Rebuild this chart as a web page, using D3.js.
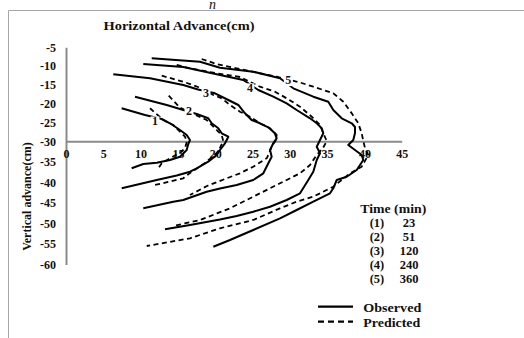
<!DOCTYPE html>
<html>
<head>
<meta charset="utf-8">
<script src="https://cdn.jsdelivr.net/npm/d3@7"></script>
<style>
  html, body { margin: 0; padding: 0; background: #fff; }
  svg { display: block; }
  text { font-family: "Liberation Serif", "Times New Roman", serif; fill: #111; }
</style>
</head>
<body>
<svg id="chart" width="524" height="338"></svg>
<script>
// Wetting-front positions (horizontal cm, vertical cm) for each irrigation time.
const times = [23, 51, 120, 240, 360];
const xTicks = [0, 5, 10, 15, 20, 25, 30, 35, 40, 45];
const yTicks = [-5, -10, -15, -20, -25, -30, -35, -40, -45, -50, -55, -60];

const observed1 = [[7.46,-21.24],[10.59,-23.02],[12.83,-24.09],[13.94,-25.23],[15.28,-27.02],[16.18,-28.35],[16.62,-29.68],[16.39,-30.68],[16.18,-32.14],[15.28,-33.77],[13.94,-34.57],[12.16,-35.23],[10.36,-35.55],[8.8,-36.59]];
const predicted1 = [[11.26,-21.24],[13.04,-24.36],[14.38,-25.69],[15.28,-27.47],[15.95,-28.8],[16.2,-30.12],[16.0,-31.41],[15.5,-32.55],[13.94,-34.16],[12.83,-35.38],[12.37,-36.59]];

const observed2 = [[9.25,-18.15],[13.5,-20.36],[15.28,-21.43],[17.52,-22.76],[19.07,-23.9],[19.53,-25.23],[20.42,-26.57],[20.87,-27.9],[21.76,-28.8],[21.54,-29.68],[21.31,-30.51],[20.64,-32.14],[20.2,-33.36],[19.07,-34.99],[17.52,-36.59],[16.62,-37.42],[14.84,-38.35],[12.16,-39.44],[7.47,-41.46]];
const predicted2 = [[13.77,-17.89],[15.28,-21.08],[17.52,-23.16],[18.86,-24.36],[19.97,-26.57],[20.87,-28.35],[21.08,-29.95],[20.38,-32.63],[18.63,-35.3],[16.62,-37.74],[15.72,-39.03],[11.93,-40.66]];

const observed3 = [[6.34,-12.19],[11.26,-13.25],[15.72,-15.04],[17.7,-16.24],[19.97,-17.25],[21.76,-19.03],[23.1,-20.36],[23.99,-22.57],[24.89,-24.36],[26.0,-25.23],[27.12,-26.3],[28.0,-27.9],[28.24,-29.23],[27.8,-30.44],[27.35,-32.14],[27.57,-33.77],[27.12,-35.38],[26.45,-37.81],[25.1,-39.44],[22.88,-40.66],[20.64,-41.51],[18.86,-42.29],[15.72,-44.31],[14.38,-44.72],[10.36,-46.33]];
const predicted3 = [[12.83,-12.56],[15.72,-14.16],[17.7,-15.57],[19.75,-17.7],[20.87,-18.58],[21.98,-20.36],[23.32,-22.15],[24.66,-23.48],[26.0,-25.23],[27.35,-26.57],[28.24,-28.35],[28.15,-29.68],[27.61,-31.17],[26.94,-34.09],[25.1,-36.2],[23.32,-37.81],[21.54,-39.03],[18.9,-40.9],[16.62,-43.09]];

const observed4 = [[10.36,-9.45],[15.72,-10.24],[20.64,-12.37],[23.77,-13.71],[25.78,-16.37],[27.79,-18.15],[29.58,-19.91],[30.92,-21.69],[32.71,-23.9],[33.61,-25.23],[34.28,-26.57],[34.49,-27.9],[34.05,-29.68],[33.61,-31.34],[34.05,-32.94],[33.61,-34.57],[33.15,-37.42],[32.48,-39.44],[31.37,-42.68],[29.58,-44.31],[27.35,-45.94],[25.1,-47.15],[22.88,-48.2],[20.64,-49.05],[16.62,-50.39],[13.27,-51.44]];
const predicted4 = [[14.84,-9.71],[16.62,-10.59],[20.2,-11.92],[23.32,-12.91],[26.0,-15.49],[28.02,-16.82],[29.58,-18.58],[31.37,-20.81],[32.94,-23.48],[34.05,-25.69],[34.49,-27.9],[34.95,-29.95],[34.45,-31.65],[33.51,-33.6],[32.71,-35.79],[31.37,-37.81],[28.69,-40.24],[25.1,-43.5],[21.98,-46.33],[17.96,-49.17],[14.38,-50.63]];

const observed5 = [[11.49,-7.93],[17.96,-8.83],[20.64,-10.43],[25.1,-11.5],[28.69,-13.25],[30.47,-15.92],[33.15,-18.15],[35.16,-19.48],[35.83,-21.69],[36.96,-23.9],[38.3,-25.23],[38.74,-26.22],[38.74,-27.82],[38.51,-29.68],[37.84,-30.92],[38.74,-32.14],[39.64,-33.36],[39.85,-34.57],[39.41,-35.79],[38.97,-37.01],[37.63,-38.64],[36.29,-39.44],[35.83,-41.46],[35.39,-42.68],[33.15,-44.72],[30.92,-46.74],[28.69,-48.76],[25.1,-51.61],[21.98,-54.04],[19.75,-55.67]];
const predicted5 = [[18.19,-8.11],[20.2,-9.45],[22.88,-10.59],[26.0,-11.92],[28.24,-12.83],[31.37,-14.37],[33.15,-15.49],[35.83,-17.25],[37.17,-19.48],[38.3,-22.57],[39.18,-25.23],[39.64,-27.9],[39.85,-29.95],[40.08,-31.65],[40.52,-33.36],[39.64,-36.2],[38.07,-37.81],[35.83,-41.07],[33.15,-43.5],[30.92,-44.72],[28.69,-46.33],[25.1,-49.17],[20.64,-51.19],[16.62,-53.63],[10.82,-55.5]];

// Curve number tags (text baseline positions) along the upper limbs
const tagPositions = [[11.93,-25.8],[16.49,-23.0],[18.77,-18.15],[24.66,-17.0],[29.8,-14.8]];

const observedSeries = [observed1, observed2, observed3, observed4, observed5];
const predictedSeries = [predicted1, predicted2, predicted3, predicted4, predicted5];

const svg = d3.select("#chart");

const x = d3.scaleLinear().domain([0, 45]).range([66, 401.7]);
const y = d3.scaleLinear().domain([-5, -30, -60]).range([47.3, 141.2, 264.5]);

// outer chart frame (top and left edges)
svg.append("path")
  .attr("d", "M8.5,338 V10.5 H524")
  .attr("fill", "none").attr("stroke", "#a6a6a6").attr("stroke-width", 1);

// italic glyph above the frame
svg.append("text").attr("x", 209).attr("y", 9)
  .style("font-style", "italic").style("font-size", "14px").text("n");

// title
svg.append("text").attr("x", 179).attr("y", 30)
  .attr("text-anchor", "middle")
  .attr("textLength", 151).attr("lengthAdjust", "spacingAndGlyphs")
  .style("font-weight", "bold").style("font-size", "12.5px")
  .text("Horizontal  Advance(cm)");

// y axis title
svg.append("text")
  .attr("transform", "translate(31,196.5) rotate(-90)")
  .attr("text-anchor", "middle")
  .style("font-weight", "bold").style("font-size", "12px")
  .text("Vertical advance(cm)");

// axes
const yAxis = svg.append("g").attr("transform", `translate(${x(0)},0)`)
  .call(d3.axisLeft(y).tickValues(yTicks).tickSize(0).tickPadding(10).tickFormat(d3.format("d")));
const xAxis = svg.append("g").attr("transform", `translate(0,${y(-30)})`)
  .call(d3.axisBottom(x).tickValues(xTicks).tickSize(0).tickPadding(8).tickFormat(d3.format("d")));
[xAxis, yAxis].forEach(g => {
  g.select(".domain").attr("stroke", "#8a8a8a").attr("stroke-width", 2);
  g.selectAll("text").attr("fill", "#111")
    .style("font-family", '"Liberation Serif", serif')
    .style("font-weight", "bold").style("font-size", "12px");
});
yAxis.selectAll("text").text(d => "-" + Math.abs(d));

const line = d3.line().x(d => x(d[0])).y(d => y(d[1]));

const curves = svg.append("g").attr("fill", "none").attr("stroke", "#000")
  .attr("stroke-linejoin", "round");
curves.selectAll("path.pred").data(predictedSeries).join("path")
  .attr("class", "pred").attr("d", line)
  .attr("stroke-width", 1.8).attr("stroke-dasharray", "5,3.5");
curves.selectAll("path.obs").data(observedSeries).join("path")
  .attr("class", "obs").attr("d", line)
  .attr("stroke-width", 2);

// curve number tags on a white patch
const tags = svg.append("g");
tagPositions.forEach((p, i) => {
  tags.append("rect").attr("x", x(p[0]) - 4.5).attr("y", y(p[1]) - 9)
    .attr("width", 9).attr("height", 11).attr("fill", "#fff");
  tags.append("text").attr("x", x(p[0])).attr("y", y(p[1]))
    .attr("text-anchor", "middle")
    .style("font-weight", "bold").style("font-size", "12px")
    .text(i + 1);
});

// time legend
const legend = svg.append("g").style("font-weight", "bold").style("font-size", "12.5px");
legend.append("text").attr("x", 393.3).attr("y", 213.3).attr("text-anchor", "middle")
  .attr("textLength", 66).attr("lengthAdjust", "spacingAndGlyphs").text("Time (min)");
times.forEach((t, i) => {
  const by = 226.7 + i * 14;
  legend.append("text").attr("x", 377).attr("y", by).attr("text-anchor", "middle").text(`(${i + 1})`);
  legend.append("text").attr("x", 409).attr("y", by).attr("text-anchor", "middle").text(t);
});

// line style legend
const key = svg.append("g");
key.append("line").attr("x1", 318).attr("x2", 353).attr("y1", 306.7).attr("y2", 306.7)
  .attr("stroke", "#000").attr("stroke-width", 2.2);
key.append("line").attr("x1", 318).attr("x2", 353).attr("y1", 321.7).attr("y2", 321.7)
  .attr("stroke", "#000").attr("stroke-width", 2.2).attr("stroke-dasharray", "6,4");
key.append("text").attr("x", 363.3).attr("y", 311.7)
  .attr("textLength", 58).attr("lengthAdjust", "spacingAndGlyphs")
  .style("font-weight", "bold").style("font-size", "13px").text("Observed");
key.append("text").attr("x", 363.3).attr("y", 326.7)
  .attr("textLength", 57).attr("lengthAdjust", "spacingAndGlyphs")
  .style("font-weight", "bold").style("font-size", "13px").text("Predicted");
</script>
</body>
</html>
